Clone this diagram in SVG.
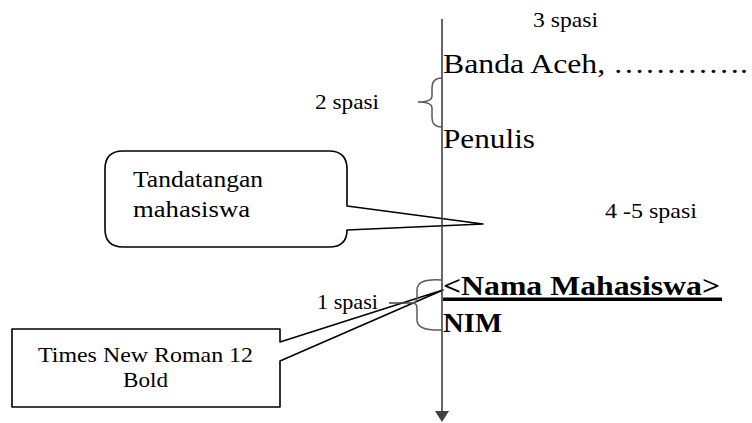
<svg xmlns="http://www.w3.org/2000/svg" width="752" height="423" viewBox="0 0 752 423">
<style>
  .t { font-family: "Liberation Serif", Tinos, "Times New Roman", "DejaVu Serif", serif; fill: #000; }
  .big { font-size: 27px; }
  .small { font-size: 22px; }
  .bold { font-weight: bold; }
  .callout { fill: #fff; stroke: #000; stroke-width: 1.6; stroke-linejoin: round; }
  .brace { fill: none; stroke: #595959; stroke-width: 1.5; }
  .axis { stroke: #404040; stroke-width: 1.6; fill: none; }
</style>
<defs>
  <marker id="arrow" viewBox="0 0 11 14" refX="1" refY="7" markerWidth="11" markerHeight="14" markerUnits="userSpaceOnUse" orient="auto">
    <path d="M0,0 L11,7 L0,14 Z" fill="#404040"/>
  </marker>
</defs>
<rect width="752" height="423" fill="#fff"/>

<g id="callout-signature">
  <path class="callout" d="M123,151 L329,151 Q347,151 347,169 L347,206 L483,224 L347,230 Q347,247 329,247 L123,247 Q105,247 105,229 L105,169 Q105,151 123,151 Z"/>
  <text class="t small" x="133" y="187" style="font-size:23px" textLength="130" lengthAdjust="spacingAndGlyphs">Tandatangan</text>
  <text class="t small" x="133" y="217" style="font-size:23px" textLength="117" lengthAdjust="spacingAndGlyphs">mahasiswa</text>
</g>

<g id="callout-font">
  <path class="callout" d="M12,329 L280,329 L280,342 L443,290 L280,361 L280,407 L12,407 Z"/>
  <text class="t small" x="38" y="362" textLength="215" lengthAdjust="spacingAndGlyphs">Times New Roman 12</text>
  <text class="t small" x="123" y="387" textLength="45" lengthAdjust="spacingAndGlyphs">Bold</text>
</g>

<g id="connectors">
  <line class="axis" x1="442" y1="19" x2="442" y2="412" marker-end="url(#arrow)"/>
</g>

<g id="brace-2spasi">
  <path class="brace" d="M442,78 Q432,78 432,88 L432,96 Q432,102 418,102 Q432,102 432,108 L432,118 Q432,127 442,127"/>
  <text class="t small" x="315" y="109" textLength="64" lengthAdjust="spacingAndGlyphs">2 spasi</text>
</g>

<g id="brace-1spasi">
  <path class="brace" d="M442,280 Q417,278 417,290 L417,298 Q417,303 412,303 Q417,303 417,308 L417,320 Q417,331 442,330"/>
  <line x1="389" y1="303" x2="412" y2="303" stroke="#404040" stroke-width="1.5"/>
  <text class="t small" x="317" y="309" textLength="61" lengthAdjust="spacingAndGlyphs">1 spasi</text>
</g>

<g id="label-3spasi">
  <text class="t small" x="533" y="27" textLength="65" lengthAdjust="spacingAndGlyphs">3 spasi</text>
</g>

<g id="label-45spasi">
  <text class="t small" x="605" y="218" textLength="92" lengthAdjust="spacingAndGlyphs">4 -5 spasi</text>
</g>

<g id="text-banda">
  <text class="t big" x="443" y="73" textLength="305" lengthAdjust="spacingAndGlyphs">Banda Aceh, ………….</text>
</g>

<g id="text-penulis">
  <text class="t big" x="443" y="148" textLength="92" lengthAdjust="spacingAndGlyphs">Penulis</text>
</g>

<g id="text-nama">
  <text class="t big bold" x="443" y="295" textLength="277" lengthAdjust="spacingAndGlyphs">&lt;Nama Mahasiswa&gt;</text>
  <rect x="443" y="297.5" width="279" height="3.5" fill="#000"/>
</g>

<g id="text-nim">
  <text class="t big bold" x="443" y="332" textLength="59" lengthAdjust="spacingAndGlyphs">NIM</text>
</g>
</svg>
